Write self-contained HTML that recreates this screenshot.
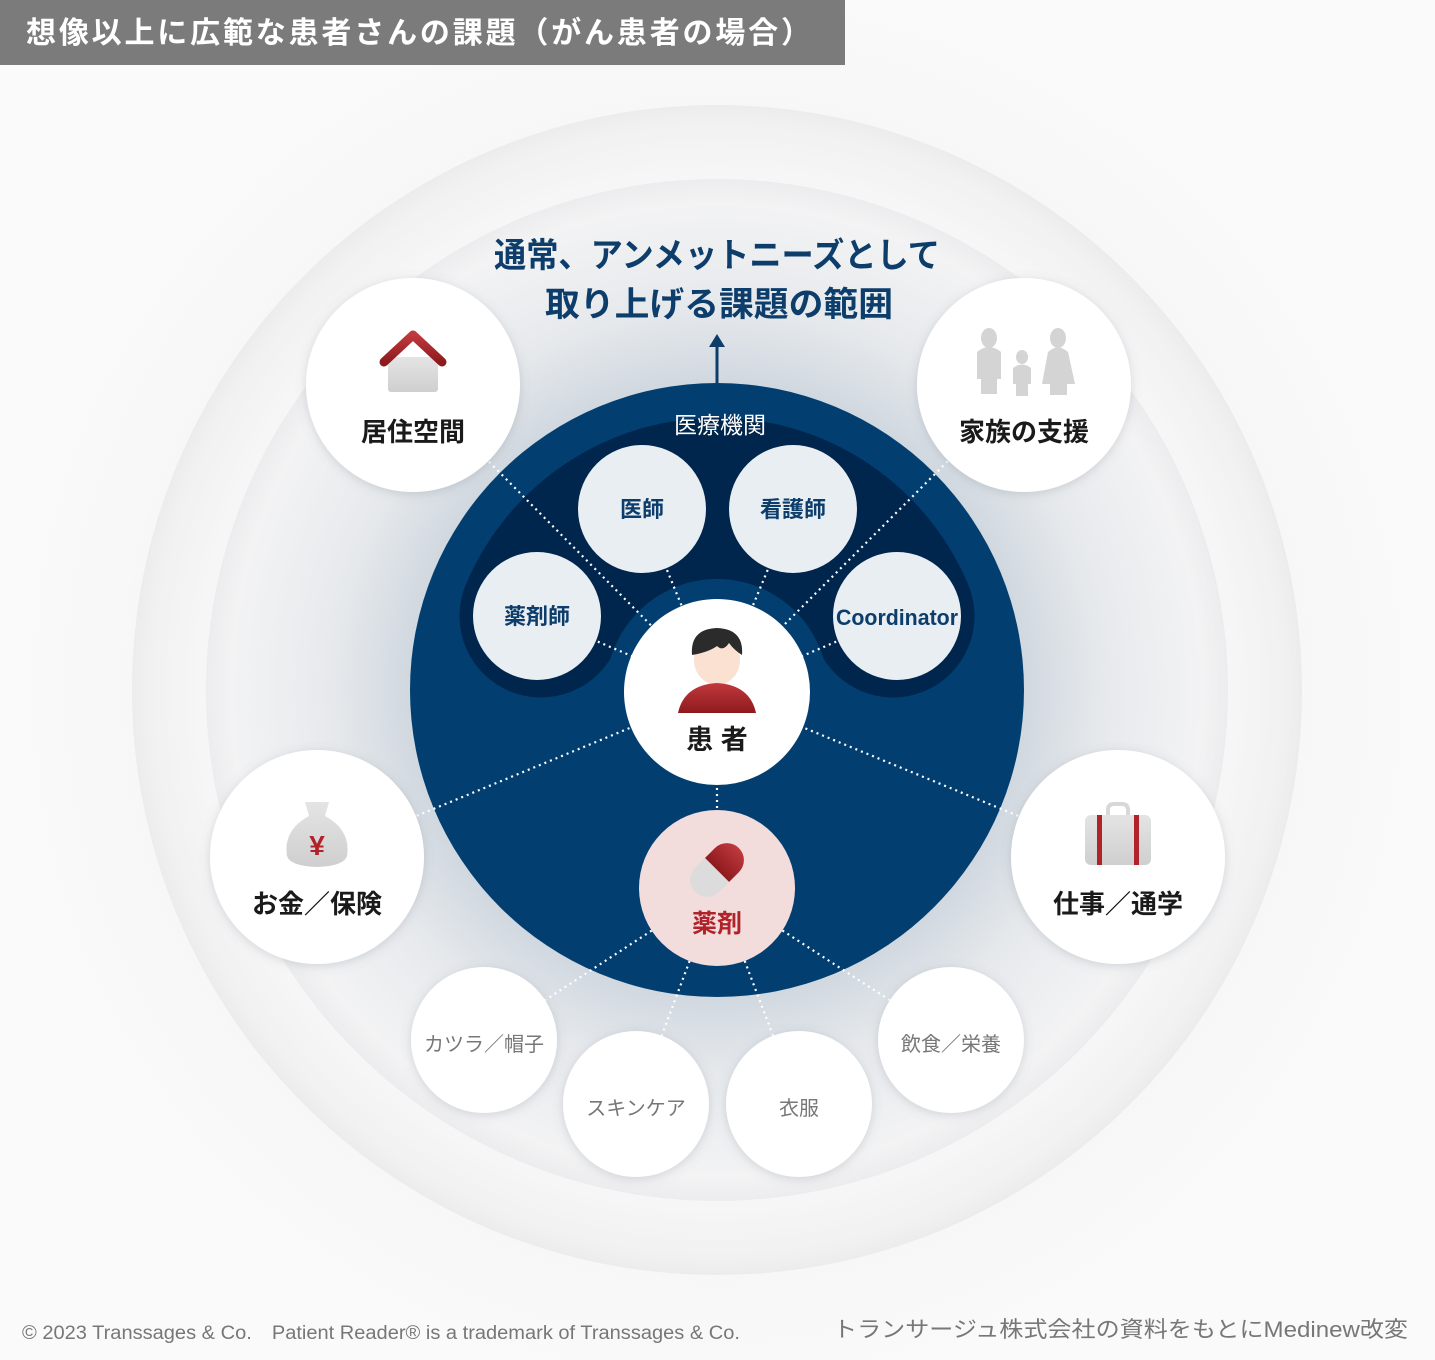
<!DOCTYPE html>
<html><head><meta charset="utf-8"><style>
body{margin:0;width:1435px;height:1360px;overflow:hidden;background:#fafafa;font-family:"Liberation Sans","Noto Sans CJK JP",sans-serif;}
</style></head><body>
<svg width="1435" height="1360" viewBox="0 0 1435 1360" xmlns="http://www.w3.org/2000/svg" style="position:absolute;left:0;top:0">
<defs>
<radialGradient id="bg" cx="717" cy="690" r="720" gradientUnits="userSpaceOnUse">
<stop offset="0.4" stop-color="#f4f4f5"/><stop offset="0.8" stop-color="#f7f7f7"/><stop offset="1" stop-color="#fafafa"/></radialGradient>
<radialGradient id="r1" cx="717" cy="690" r="585" gradientUnits="userSpaceOnUse">
<stop offset="0.85" stop-color="#f8f8f8"/><stop offset="0.97" stop-color="#f1f1f2"/><stop offset="1" stop-color="#ececed"/></radialGradient>
<radialGradient id="r2" cx="717" cy="690" r="512" gradientUnits="userSpaceOnUse">
<stop offset="0.55" stop-color="#c9d2db"/><stop offset="0.75" stop-color="#e6e9ec"/><stop offset="0.95" stop-color="#f3f3f4"/><stop offset="1" stop-color="#ececee"/></radialGradient>
<filter id="sh" x="-30%" y="-30%" width="160%" height="160%"><feDropShadow dx="0" dy="2" stdDeviation="5" flood-color="#6a7480" flood-opacity="0.25"/></filter>
<linearGradient id="red" x1="0" y1="0" x2="0" y2="1"><stop offset="0" stop-color="#c0393d"/><stop offset="1" stop-color="#8e1a1e"/></linearGradient>
<linearGradient id="gry" x1="0" y1="0" x2="0" y2="1"><stop offset="0" stop-color="#e4e4e4"/><stop offset="1" stop-color="#cfcfcf"/></linearGradient>
</defs>
<rect width="1435" height="1360" fill="url(#bg)"/>
<circle cx="717" cy="690" r="585" fill="url(#r1)"/>
<circle cx="717" cy="690" r="511" fill="url(#r2)"/>
<circle cx="717" cy="690" r="307" fill="#023f70"/>
<path d="M541 616 A191 191 0 0 1 893 616" fill="none" stroke="#00264d" stroke-width="163" stroke-linecap="round"/>
<circle cx="717" cy="690" r="111" fill="#023f70"/>
<line x1="717" y1="385" x2="717" y2="345" stroke="#0d3d6b" stroke-width="3"/>
<polygon points="717,334 709,347 725,347" fill="#0d3d6b"/>
<g stroke="#ffffff" stroke-width="2.2" stroke-dasharray="2 4" fill="none">
<line x1="413" y1="385" x2="717" y2="692"/>
<line x1="1024" y1="385" x2="717" y2="692"/>
<line x1="317" y1="857" x2="717" y2="692"/>
<line x1="1118" y1="857" x2="717" y2="692"/>
<line x1="642" y1="509" x2="717" y2="692"/>
<line x1="793" y1="509" x2="717" y2="692"/>
<line x1="537" y1="616" x2="717" y2="692"/>
<line x1="897" y1="616" x2="717" y2="692"/>
<line x1="717" y1="692" x2="717" y2="888"/>
<line x1="717" y1="888" x2="484" y2="1040"/>
<line x1="717" y1="888" x2="636" y2="1104"/>
<line x1="717" y1="888" x2="799" y2="1104"/>
<line x1="717" y1="888" x2="951" y2="1040"/>
</g>
<g fill="#fff" filter="url(#sh)">
<circle cx="413" cy="385" r="107"/><circle cx="1024" cy="385" r="107"/>
<circle cx="317" cy="857" r="107"/><circle cx="1118" cy="857" r="107"/>
<circle cx="484" cy="1040" r="73"/><circle cx="636" cy="1104" r="73"/>
<circle cx="799" cy="1104" r="73"/><circle cx="951" cy="1040" r="73"/>
</g>
<g fill="#e9eef3">
<circle cx="642" cy="509" r="64"/><circle cx="793" cy="509" r="64"/>
<circle cx="537" cy="616" r="64"/><circle cx="897" cy="616" r="64"/>
</g>
<circle cx="717" cy="692" r="93" fill="#fff"/>
<circle cx="717" cy="888" r="78" fill="#f2dcdc"/>
<rect x="388" y="357" width="50" height="35" rx="3" fill="url(#gry)"/>
<polyline points="384,362 413,335 442,362" fill="none" stroke="url(#red)" stroke-width="9" stroke-linejoin="round" stroke-linecap="round"/>
<g fill="#d4d4d4">
<ellipse cx="989" cy="338" rx="8" ry="10"/><path d="M977 352 q12-10 24 0 v27 h-4 v15 h-16 v-15 h-4z"/>
<ellipse cx="1022" cy="357" rx="6" ry="7"/><path d="M1013 368 q9-7 18 0 v16 h-3 v12 h-12 v-12 h-3z"/>
<ellipse cx="1058" cy="338" rx="8" ry="10"/><path d="M1048 352 q10-9 20 0 l7 32 h-8 v11 h-17 v-11 h-8z"/>
</g>
<ellipse cx="717" cy="660" rx="23" ry="25" fill="#fbe1d2"/>
<path d="M692 655 q-2-26 25-27 q27 1 25 27 q-8-5 -13-12 q-6 9 -12 3 q-8 6 -25 9z" fill="#2b2b2b"/>
<path d="M678 713 q6-28 39-30 q33 2 39 30z" fill="url(#red)"/>
<path d="M305 802 h24 l-4 14 q26 14 22 40 q-3 10 -30 11 q-27 -1 -30 -11 q-4 -26 22 -40z" fill="url(#gry)"/>
<text x="317" y="855" font-size="28" font-weight="bold" fill="#b0232a" text-anchor="middle" font-family="Liberation Sans, sans-serif">¥</text>
<path d="M1108 820 v-10 q0-6 6-6 h8 q6 0 6 6 v10" fill="none" stroke="#d8d8d8" stroke-width="4"/>
<rect x="1085" y="815" width="66" height="50" rx="6" fill="url(#gry)"/>
<rect x="1097" y="815" width="5" height="50" fill="#b0232a"/><rect x="1134" y="815" width="5" height="50" fill="#b0232a"/>
<g transform="rotate(45 717 870)">
<path d="M700 870 v-14 a17 17 0 0 1 34 0 v14z" fill="url(#red)"/>
<path d="M700 870 v14 a17 17 0 0 0 34 0 v-14z" fill="#dcdcdc"/>
</g>
<g font-family="Liberation Sans, Noto Sans CJK JP, sans-serif" font-weight="bold" text-anchor="middle">
<text x="717" y="267" font-size="34" fill="#0d3d6b" textLength="446" lengthAdjust="spacingAndGlyphs">通常、アンメットニーズとして</text>
<text x="719" y="316" font-size="34" fill="#0d3d6b" textLength="348" lengthAdjust="spacingAndGlyphs">取り上げる課題の範囲</text>
<text x="413" y="441" font-size="26" fill="#1a1a1a">居住空間</text>
<text x="1024" y="441" font-size="26" fill="#1a1a1a">家族の支援</text>
<text x="317" y="913" font-size="26" fill="#1a1a1a">お金／保険</text>
<text x="1118" y="913" font-size="26" fill="#1a1a1a">仕事／通学</text>
<text x="717" y="749" font-size="27" fill="#1a1a1a">患 者</text>
<text x="717" y="932" font-size="25" fill="#b0232a">薬剤</text>
<text x="642" y="517" font-size="22" fill="#0d3d6b">医師</text>
<text x="793" y="517" font-size="22" fill="#0d3d6b">看護師</text>
<text x="537" y="624" font-size="22" fill="#0d3d6b">薬剤師</text>
<text x="897" y="625" font-size="22" fill="#0d3d6b" textLength="122" lengthAdjust="spacingAndGlyphs">Coordinator</text>
</g>
<g font-family="Liberation Sans, Noto Sans CJK JP, sans-serif" text-anchor="middle">
<text x="720" y="433" font-size="23" fill="#ffffff">医療機関</text>
<text x="484" y="1051" font-size="20" fill="#777">カツラ／帽子</text>
<text x="636" y="1115" font-size="20" fill="#777">スキンケア</text>
<text x="799" y="1115" font-size="20" fill="#777">衣服</text>
<text x="951" y="1051" font-size="20" fill="#777">飲食／栄養</text>
</g>
<rect x="0" y="0" width="845" height="65" fill="#7b7b7b"/>
<text x="26" y="43" font-size="30" font-weight="bold" fill="#fff" font-family="Liberation Sans, Noto Sans CJK JP, sans-serif" textLength="785" lengthAdjust="spacing">想像以上に広範な患者さんの課題（がん患者の場合）</text>
<text x="22" y="1339" font-size="19" fill="#777" font-family="Liberation Sans, Noto Sans CJK JP, sans-serif" textLength="718" lengthAdjust="spacingAndGlyphs">© 2023 Transsages &amp; Co.　Patient Reader® is a trademark of Transsages &amp; Co.</text>
<text x="833" y="1337" font-size="22" fill="#777" font-family="Liberation Sans, Noto Sans CJK JP, sans-serif" textLength="575" lengthAdjust="spacingAndGlyphs">トランサージュ株式会社の資料をもとにMedinew改変</text>
</svg>
</body></html>
